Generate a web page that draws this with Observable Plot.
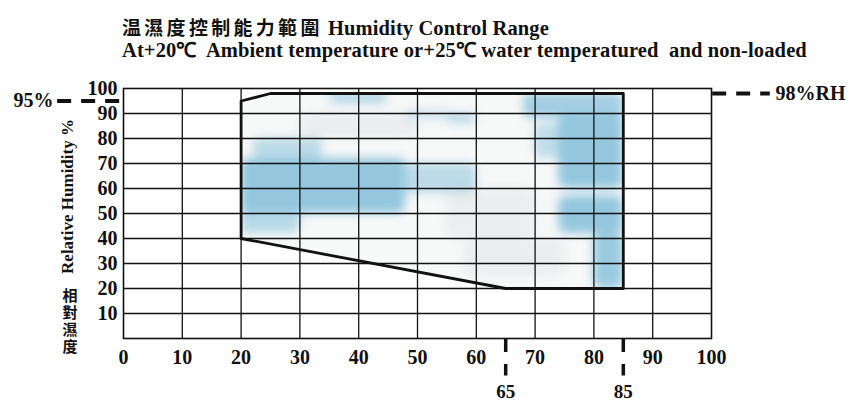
<!DOCTYPE html>
<html>
<head>
<meta charset="utf-8">
<script src="https://cdn.jsdelivr.net/npm/d3@7"></script>
<script src="https://cdn.jsdelivr.net/npm/@observablehq/plot@0.6"></script>
<style>
  html, body { margin: 0; padding: 0; background: white; }
  #titles { position: relative; width: 854px; height: 62px; font-family: "Liberation Serif", serif; font-weight: bold; font-size: 20.5px; letter-spacing: 0.12px; color: #111; }
  #titles div { position: absolute; left: 122px; white-space: pre; line-height: 20px; }
  .cjk { font-family: "Noto Sans CJK TC", sans-serif; font-weight: 700; letter-spacing: 3.3px; font-size: 19px; }
  svg { display: block; overflow: visible; }
</style>
</head>
<body>
<div id="titles">
  <div id="t1" style="top:17px"><span class="cjk">温濕度控制能力範圍</span> Humidity Control Range</div>
  <div id="t2" style="top:40px">At+20℃  Ambient temperature or+25℃ water temperatured  and non-loaded</div>
</div>
<div id="chart"></div>
<script>
// ---- data ----
const xTicks = [0, 10, 20, 30, 40, 50, 60, 70, 80, 90, 100];
const yTicks = [10, 20, 30, 40, 50, 60, 70, 80, 90, 100];
const gridXValues = [10, 20, 30, 40, 50, 60, 70, 80, 90];
const gridYValues = [10, 20, 30, 40, 50, 60, 70, 80, 90];

// control range polygon: temperature (°C), relative humidity (%)
const rangeTemp = [20, 20, 25, 85, 85, 65, 20];
const rangeRH   = [40, 95, 98, 98, 20, 20, 40];

// mottled shading zones inside the range (x1, x2, y1, y2, tone)
const blueX1 = [20, 22, 20, 45, 35, 55, 68, 74, 70, 74, 80, 48];
const blueX2 = [48, 34, 30, 60, 45, 60, 85, 85, 77, 85, 85, 56];
const blueY1 = [50, 72, 42, 58, 94, 86, 88, 60, 72, 42, 20, 88];
const blueY2 = [72, 80, 52, 70, 98, 90, 98, 90, 86, 57, 42, 91];
const blueTone = [1, 0.6, 0.65, 0.6, 0.75, 0.65, 0.85, 1, 0.55, 1, 0.95, 0.5];

const grayX1 = [55, 30, 58];
const grayX2 = [70, 50, 75];
const grayY1 = [40, 80, 25];
const grayY2 = [60, 90, 40];

// annotation markers
const markerRH = [95, 98];
const markerX1 = [-11.2, 100.2];
const markerX2 = [0, 110];
const leftText = "95%";
const leftTextX = -11.9;
const rightText = "98%RH";
const rightTextX = 110.9;

const tempMarks = [65, 85];
const tempMarkLabelY = -21.2;
const tempMarkY2 = -15;

const yLabel = "Relative Humidity %";
const yLabelCJK = "相對濕度";

// ---- tables built from arrays ----
const polygon = rangeTemp.map((t, i) => ({t, rh: rangeRH[i]}));
const blueZones = blueX1.map((x1, i) => ({x1, x2: blueX2[i], y1: blueY1[i], y2: blueY2[i], o: blueTone[i]}));
const grayZones = grayX1.map((x1, i) => ({x1, x2: grayX2[i], y1: grayY1[i], y2: grayY2[i]}));
const markers = markerRH.map((rh, i) => ({rh, x1: markerX1[i], x2: markerX2[i]}));
const tempMarkers = tempMarks.map(t => ({t, label: String(t)}));

const serif = "Liberation Serif";
const txt = {fontWeight: "bold", fontFamily: serif, fill: "#111"};

const plot = Plot.plot({
  width: 854,
  height: 339,
  marginLeft: 123,
  marginRight: 143,
  marginTop: 26,
  marginBottom: 63,
  x: {domain: [0, 100], ticks: xTicks, tickSize: 0, tickPadding: 11, label: null},
  y: {domain: [0, 100], ticks: yTicks, tickSize: 0, tickPadding: 6, label: null},
  style: {fontFamily: serif, fontWeight: "bold", fontSize: "20px", color: "#111", background: "white", overflow: "visible"},
  marks: [
    Plot.line(polygon, {x: "t", y: "rh", fill: "#f7f8f8", stroke: "none"}),
    Plot.rect(grayZones, {x1: "x1", x2: "x2", y1: "y1", y2: "y2", fill: "#e2e6e7", fillOpacity: 0.6, rx: 10}),
    Plot.rect(blueZones, {x1: "x1", x2: "x2", y1: "y1", y2: "y2", fill: "#94c7de", fillOpacity: "o", rx: 8}),
    Plot.ruleX(gridXValues, {stroke: "#111", strokeWidth: 1.3}),
    Plot.ruleY(gridYValues, {stroke: "#111", strokeWidth: 1.3}),
    Plot.frame({stroke: "#111", strokeWidth: 1.6}),
    Plot.line(polygon, {x: "t", y: "rh", stroke: "#111", strokeWidth: 2.8}),
    Plot.ruleY(markers, {y: "rh", x1: "x1", x2: "x2", stroke: "#111", strokeWidth: 4, strokeDasharray: "14,10"}),
    Plot.text([leftText], {x: leftTextX, y: markerRH[0], text: d => d, textAnchor: "end", fontSize: 20, ...txt}),
    Plot.text([rightText], {x: rightTextX, y: markerRH[1], text: d => d, textAnchor: "start", fontSize: 20, ...txt}),
    Plot.ruleX(tempMarkers, {x: "t", y1: 0, y2: tempMarkY2, stroke: "#111", strokeWidth: 3.5, strokeDasharray: "14,12"}),
    Plot.text(tempMarkers, {x: "t", y: tempMarkLabelY, text: "label", fontSize: 19, ...txt}),
    Plot.text([yLabel], {x: -9.5, y: 56.8, text: d => d, rotate: -90, fontSize: 17, ...txt}),
    Plot.text([yLabelCJK], {x: -9.1, y: 8.6, text: d => d, fontSize: 15, fontWeight: "bold", fontFamily: "Noto Sans CJK TC", fill: "#111"})
  ]
});
document.getElementById("chart").appendChild(plot);

const svg = d3.select(plot);

// set the Chinese axis label in a vertical column of upright characters
svg.selectAll("text").filter(function () { return this.textContent === yLabelCJK; })
  .attr("dy", null)
  .style("writing-mode", "vertical-rl")
  .style("text-orientation", "upright")
  .style("letter-spacing", "2px");

// soften the shading zones and clip them to the control range outline
const outline = svg.selectAll('g[aria-label="line"] path').nodes();
const outlinePath = outline.length ? outline[outline.length - 1] : null;
if (outlinePath) {
  const defs = svg.insert("defs", ":first-child");
  const lineG = outlinePath.parentNode;
  defs.append("clipPath").attr("id", "rangeClip").attr("clipPathUnits", "userSpaceOnUse")
    .append("path").attr("d", outlinePath.getAttribute("d"))
    .attr("transform", lineG.getAttribute("transform"));
  svg.selectAll('g[aria-label="rect"]').each(function () {
    const wrap = d3.select(this.parentNode).insert("g", () => this);
    wrap.attr("clip-path", "url(#rangeClip)");
    wrap.node().appendChild(this);
    d3.select(this).style("filter", "blur(5px)");
  });
}
</script>
</body>
</html>
